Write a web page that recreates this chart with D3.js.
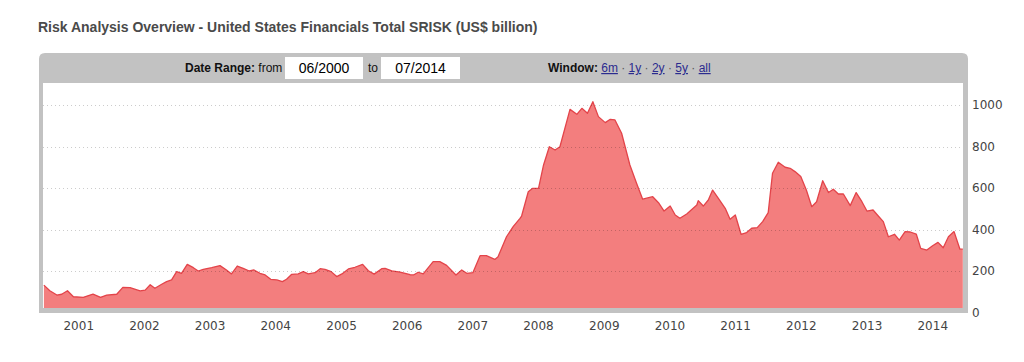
<!DOCTYPE html>
<html>
<head>
<meta charset="utf-8">
<script src="https://cdn.jsdelivr.net/npm/d3@7"></script>
<style>
  html, body { margin: 0; padding: 0; background: #fff; }
  svg { display: block; }
</style>
</head>
<body>
<svg id="chart" width="1024" height="362"></svg>
<script>
// ---- data ----
const dates = [
  "2000-06-24","2000-07-27","2000-09-04","2000-10-01","2000-11-02","2000-12-05",
  "2001-01-29","2001-03-24","2001-05-05","2001-06-08","2001-08-03","2001-09-06","2001-10-16","2001-12-11",
  "2002-01-08","2002-02-05","2002-03-03","2002-04-10","2002-05-07","2002-06-04","2002-07-02","2002-07-29","2002-08-30","2002-10-03","2002-10-30","2002-11-27",
  "2003-01-13","2003-02-28","2003-04-05","2003-05-03","2003-06-04","2003-07-07","2003-08-10","2003-09-05","2003-10-08","2003-11-06","2003-12-07",
  "2004-01-10","2004-02-10","2004-03-04","2004-04-02","2004-05-08","2004-06-05","2004-07-03","2004-08-10","2004-09-07","2004-10-04","2004-11-07","2004-12-08",
  "2005-01-06","2005-02-11","2005-03-19","2005-05-01","2005-06-02","2005-07-04","2005-08-15","2005-09-03","2005-10-10","2005-11-25",
  "2006-01-20","2006-02-08","2006-03-06","2006-04-03","2006-05-28","2006-07-04","2006-08-11","2006-10-02","2006-11-03","2006-12-01",
  "2007-01-04","2007-02-13","2007-03-20","2007-05-06","2007-05-24","2007-07-10","2007-08-16","2007-09-23","2007-10-02","2007-11-08","2007-12-01",
  "2008-01-04","2008-02-01","2008-03-04","2008-04-05","2008-05-02","2008-06-27","2008-08-04","2008-09-01","2008-10-02","2008-11-01","2008-12-02",
  "2009-01-09","2009-02-06","2009-03-04","2009-04-10","2009-05-26","2009-07-02","2009-08-05","2009-09-30","2009-11-01","2009-12-02",
  "2010-01-05","2010-02-02","2010-02-28","2010-04-07","2010-06-02","2010-06-10","2010-07-08","2010-08-05","2010-08-29","2010-09-30","2010-11-07","2010-12-04",
  "2011-01-02","2011-02-03","2011-03-06","2011-04-03","2011-05-04","2011-06-03","2011-07-04","2011-07-28","2011-08-29","2011-10-06","2011-11-03","2011-11-30",
  "2012-01-01","2012-02-01","2012-03-02","2012-03-29","2012-05-02","2012-06-03","2012-06-30","2012-07-28","2012-08-25","2012-10-02","2012-11-04","2012-12-06",
  "2013-01-03","2013-02-06","2013-03-07","2013-04-04","2013-05-02","2013-06-05","2013-07-02","2013-08-03","2013-09-01","2013-10-04","2013-10-29","2013-12-02",
  "2014-01-03","2014-02-02","2014-03-03","2014-04-01","2014-05-02","2014-06-04","2014-06-20"
];
const values = [
  132,105,84,88,105,76,
  73,89,73,84,88,121,120,104,
  108,134,117,136,149,157,197,189,232,216,200,208,
  216,226,205,186,224,213,200,205,189,181,160,
  157,149,160,184,186,197,186,192,211,208,197,173,
  186,210,218,232,201,185,211,213,201,195,
  182,181,194,186,245,245,227,181,205,189,
  192,274,274,256,269,365,414,454,465,582,598,
  598,711,799,783,799,979,955,984,960,1016,944,
  915,931,928,864,711,623,546,558,529,489,
  513,470,454,475,518,539,513,542,590,550,502,449,
  470,377,385,406,409,438,481,671,724,700,695,679,
  655,590,510,534,635,578,594,571,571,515,578,534,
  489,494,465,438,365,377,349,390,388,378,309,301,
  322,338,312,365,390,305,305
];
const yTicks = [0, 200, 400, 600, 800, 1000];
const yearLabels = ["2001","2002","2003","2004","2005","2006","2007","2008","2009","2010","2011","2012","2013","2014"];
const dateRangeFrom = "06/2000";
const dateRangeTo = "07/2014";
const windowLinks = ["6m", "1y", "2y", "5y", "all"];
const titleText = "Risk Analysis Overview - United States Financials Total SRISK (US$ billion)";

// ---- layout ----
const parse = d3.timeParse("%Y-%m-%d");
const data = dates.map((d, i) => ({ date: parse(d), value: values[i] }));

const frame = { left: 39, right: 968, top: 53, bottom: 313, r: 6 };
const plot = { left: 43, right: 963, top: 83, bottom: 308 };

const svg = d3.select("#chart");
const sans = "'Liberation Sans', Arial, Helvetica, sans-serif";
const axisFont = "'DejaVu Sans', Verdana, sans-serif";

const x = d3.scaleTime()
  .domain([parse("2000-06-19"), parse("2014-06-21")])
  .range([plot.left, plot.right]);
const y = d3.scaleLinear().domain([0, 1000]).range([312.5, 105]);

// title
svg.append("text")
  .attr("x", 38).attr("y", 32)
  .attr("font-family", sans).attr("font-size", 14).attr("font-weight", "bold")
  .attr("fill", "#4a4a4a")
  .text(titleText);

// gray frame with rounded top corners
const f = frame;
svg.append("path")
  .attr("d", `M${f.left},${f.bottom} L${f.left},${f.top + f.r} Q${f.left},${f.top} ${f.left + f.r},${f.top}
    L${f.right - f.r},${f.top} Q${f.right},${f.top} ${f.right},${f.top + f.r} L${f.right},${f.bottom} Z`)
  .attr("fill", "#c2c2c2");

svg.append("rect")
  .attr("x", plot.left).attr("y", plot.top)
  .attr("width", plot.right - plot.left).attr("height", plot.bottom - plot.top)
  .attr("fill", "#ffffff");

// header controls
const hdrY = 72;
const hdr = svg.append("g").attr("font-family", sans).attr("font-size", 12).attr("fill", "#111");
const t1 = hdr.append("text").attr("x", 185).attr("y", hdrY);
t1.append("tspan").attr("font-weight", "bold").text("Date Range:");
t1.append("tspan").text(" from");

function box(x0, x1, label) {
  hdr.append("rect").attr("x", x0).attr("y", 57).attr("width", x1 - x0).attr("height", 22)
    .attr("fill", "#fff");
  hdr.append("text").attr("x", (x0 + x1) / 2).attr("y", 73).attr("text-anchor", "middle")
    .attr("font-size", 14).attr("fill", "#000").text(label);
}
box(285, 363, dateRangeFrom);
hdr.append("text").attr("x", 368).attr("y", hdrY).text("to");
box(381, 460, dateRangeTo);

const w = hdr.append("text").attr("x", 548).attr("y", hdrY);
w.append("tspan").attr("font-weight", "bold").text("Window:");
windowLinks.forEach((l, i) => {
  if (i > 0) w.append("tspan").attr("fill", "#555").text(" \u00b7 ");
  else w.append("tspan").text(" ");
  w.append("tspan").attr("fill", "#2b2b8f").attr("text-decoration", "underline").text(l);
});

// plot
const defs = svg.append("defs");
defs.append("clipPath").attr("id", "clip").append("rect")
  .attr("x", plot.left).attr("y", plot.top)
  .attr("width", plot.right - plot.left).attr("height", plot.bottom - plot.top);

const g = svg.append("g").attr("clip-path", "url(#clip)");

const area = d3.area().x(d => x(d.date)).y0(y(0)).y1(d => y(d.value));
const line = d3.line().x(d => x(d.date)).y(d => y(d.value));

g.append("path").datum(data).attr("d", area).attr("fill", "#f37e7e");
g.append("path").datum(data).attr("d", line)
  .attr("fill", "none").attr("stroke", "#e3444a").attr("stroke-width", 1.3)
  .attr("stroke-linejoin", "round");

// grid (dotted, drawn over fill)
g.selectAll("line.grid").data(yTicks.filter(v => v > 0)).enter().append("line")
  .attr("class", "grid")
  .attr("x1", plot.left).attr("x2", plot.right)
  .attr("y1", d => Math.round(y(d)) + 0.5).attr("y2", d => Math.round(y(d)) + 0.5)
  .attr("stroke", "rgba(0,0,0,0.2)").attr("stroke-width", 1)
  .attr("stroke-dasharray", "1,3");

// right axis
const yAxis = svg.append("g")
  .attr("transform", `translate(${frame.right},0)`)
  .call(d3.axisRight(y).tickValues(yTicks).tickSize(0).tickPadding(4).tickFormat(d3.format("d")));
yAxis.select(".domain").remove();
yAxis.selectAll("text").attr("font-family", axisFont).attr("font-size", 12).attr("fill", "#444");

// bottom axis
const yearDates = yearLabels.map(s => parse(s + "-01-01"));
const xAxis = svg.append("g")
  .attr("transform", `translate(0,${frame.bottom})`)
  .call(d3.axisBottom(x).tickValues(yearDates).tickSize(0).tickPadding(8).tickFormat(d3.timeFormat("%Y")));
xAxis.select(".domain").remove();
xAxis.selectAll("text").attr("font-family", axisFont).attr("font-size", 12).attr("fill", "#444");
</script>
</body>
</html>
